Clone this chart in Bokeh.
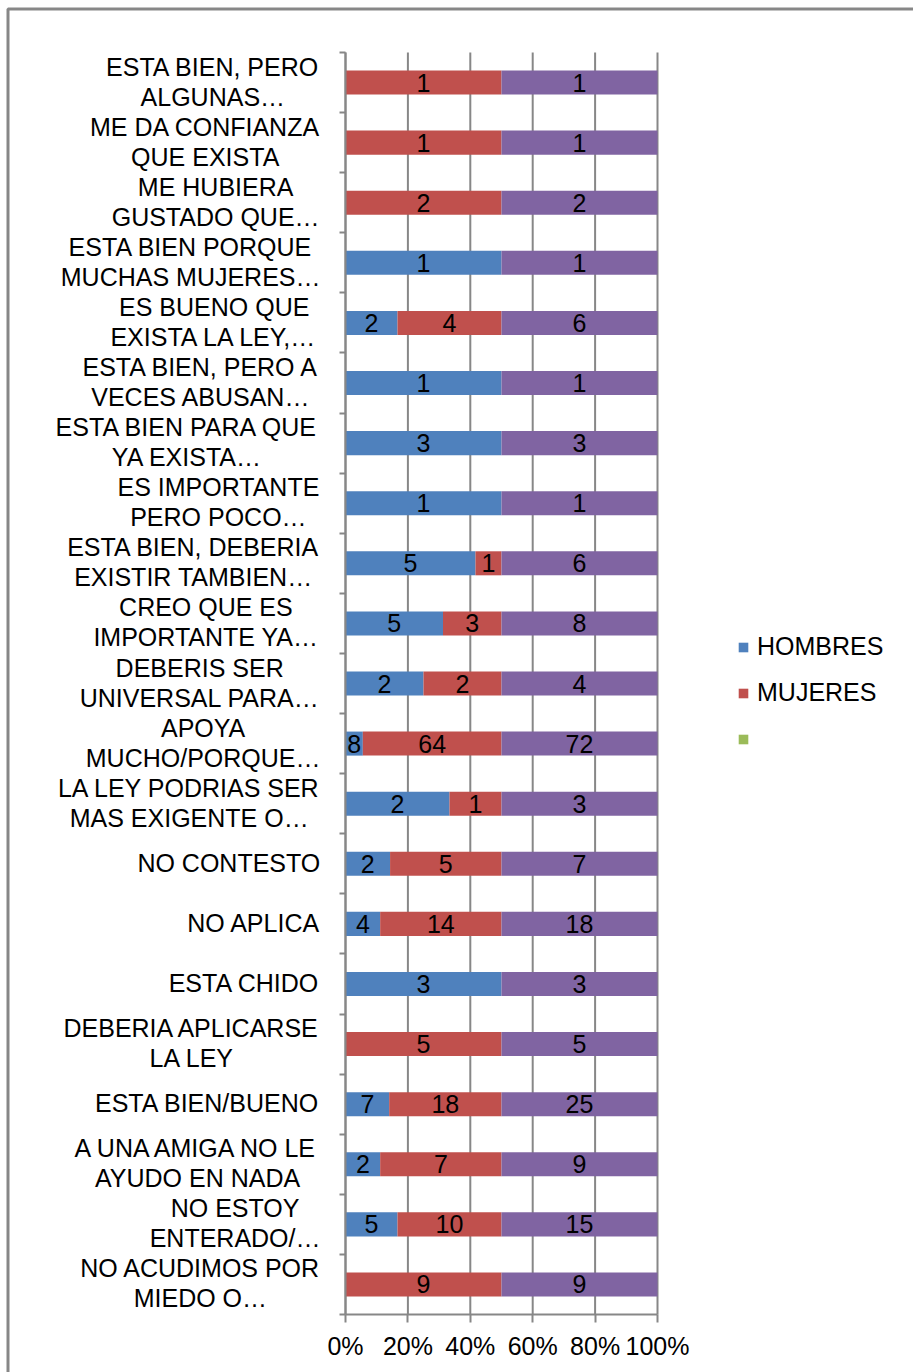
from bokeh.plotting import figure
from bokeh.models import (ColumnDataSource, Range1d, FixedTicker,
                          Legend, LegendItem, BoxAnnotation)
from bokeh.core.properties import value
from bokeh.embed import file_html
from bokeh.resources import INLINE

# ---- data -------------------------------------------------------------
categories = [
    "ESTA BIEN, PERO\nALGUNAS…",
    "ME DA CONFIANZA\nQUE EXISTA",
    "ME HUBIERA\nGUSTADO QUE…",
    "ESTA BIEN PORQUE\nMUCHAS MUJERES…",
    "ES BUENO QUE\nEXISTA LA LEY,…",
    "ESTA BIEN, PERO A\nVECES ABUSAN…",
    "ESTA BIEN PARA QUE\nYA EXISTA…",
    "ES IMPORTANTE\nPERO POCO…",
    "ESTA BIEN, DEBERIA\nEXISTIR TAMBIEN…",
    "CREO QUE ES\nIMPORTANTE YA…",
    "DEBERIS SER\nUNIVERSAL PARA…",
    "APOYA\nMUCHO/PORQUE…",
    "LA LEY PODRIAS SER\nMAS EXIGENTE O…",
    "NO CONTESTO",
    "NO APLICA",
    "ESTA CHIDO",
    "DEBERIA APLICARSE\nLA LEY",
    "ESTA BIEN/BUENO",
    "A UNA AMIGA NO LE\nAYUDO EN NADA",
    "NO ESTOY\nENTERADO/…",
    "NO ACUDIMOS POR\nMIEDO O…",
]
hombres = [0, 0, 0, 1, 2, 1, 3, 1, 5, 5, 2, 8, 2, 2, 4, 3, 0, 7, 2, 5, 0]
mujeres = [1, 1, 2, 0, 4, 0, 0, 0, 1, 3, 2, 64, 1, 5, 14, 0, 5, 18, 7, 10, 9]
sin_nombre = [0, 0, 0, 0, 0, 0, 0, 0, 0, 0, 0, 0, 0, 0, 0, 0, 0, 0, 0, 0, 0]
totales = [1, 1, 2, 1, 6, 1, 3, 1, 6, 8, 4, 72, 3, 7, 18, 3, 5, 25, 9, 15, 9]

x_ticks = [0.0, 0.2, 0.4, 0.6, 0.8, 1.0]
x_tick_labels = ["0%", "20%", "40%", "60%", "80%", "100%"]
legend_names = ["HOMBRES", "MUJERES", "\u00a0"]

BLUE, RED, GREEN, PURPLE = "#4F81BD", "#C0504D", "#9BBB59", "#8064A2"
GRAY = "#878787"
FONT = "Liberation Sans"
FS = 25

# ---- page geometry (pixels) -------------------------------------------
W, H = 913, 1372
PLOT_LEFT, PLOT_RIGHT = 345, 657
PLOT_TOP, PLOT_BOTTOM = 52, 1314

n = len(categories)
ypos = [i + 0.5 for i in range(n)]
k = n / (PLOT_BOTTOM - PLOT_TOP)          # y data units per pixel


def xd(px):
    return (px - PLOT_LEFT) / (PLOT_RIGHT - PLOT_LEFT)


def yd(px):
    return (px - PLOT_TOP) * k


# stacked 100% segments
series = (hombres, mujeres, sin_nombre, totales)
colors = (BLUE, RED, GREEN, PURPLE)
sums = [sum(col) for col in zip(*series)]
segs = []
left = [0.0] * n
for vals in series:
    frac = [v / s for v, s in zip(vals, sums)]
    right = [l + f for l, f in zip(left, frac)]
    segs.append((vals, list(left), right))
    left = right

p = figure(width=W, height=H,
           x_range=Range1d(xd(0), xd(W)), y_range=Range1d(yd(H), yd(0)),
           output_backend="svg", toolbar_location=None,
           min_border_left=0, min_border_right=0,
           min_border_top=0, min_border_bottom=0)
p.title.visible = False
p.outline_line_color = None
p.background_fill_color = "white"
p.border_fill_color = "white"
p.grid.visible = False

# vertical grid lines at the percentage ticks, spanning the category rows
p.segment(x0=x_ticks, y0=[0] * len(x_ticks), x1=x_ticks, y1=[n] * len(x_ticks),
          line_color=GRAY, line_width=2)

renderers = []
for (vals, l, r), col in zip(segs, colors):
    src = ColumnDataSource(dict(y=ypos, left=l, right=r))
    rr = p.hbar(y="y", left="left", right="right", height=0.4, source=src,
                fill_color=col, line_color=None)
    renderers.append(rr)

# value labels centred in each segment
lx, ly, lt = [], [], []
for vals, l, r in segs:
    for i, v in enumerate(vals):
        if v:
            lx.append((l[i] + r[i]) / 2)
            ly.append(ypos[i])
            lt.append(str(v))
p.text(x="x", y="y", text="t", source=ColumnDataSource(dict(x=lx, y=ly, t=lt)),
       text_align="center", text_baseline="middle",
       text_font=value(FONT), text_font_size=value(f"{FS}px"), text_color="black")

# ---- category labels: wrapped lines centred as a block ------------------
ARIAL = {" ": 278, ",": 278, ".": 278, "/": 278, "…": 1000,
         "A": 667, "B": 667, "C": 722, "D": 722, "E": 667, "F": 611,
         "G": 778, "H": 722, "I": 278, "J": 500, "K": 667, "L": 556,
         "M": 833, "N": 722, "O": 778, "P": 667, "Q": 778, "R": 722,
         "S": 667, "T": 611, "U": 722, "V": 667, "W": 944, "X": 667,
         "Y": 667, "Z": 611}


def text_width(s):
    return sum(ARIAL.get(c, 667) for c in s) * FS / 1000.0


LABEL_RIGHT = 320
LINE_GAP = 30
cx, cy, ct = [], [], []
for i, cat in enumerate(categories):
    lines = cat.split("\n")
    wmax = max(text_width(s) for s in lines)
    m = len(lines)
    for j, s in enumerate(lines):
        cx.append(xd(LABEL_RIGHT - wmax / 2))
        cy.append(ypos[i] + ((j - (m - 1) / 2) * LINE_GAP - 1) * k)
        ct.append(s)
p.text(x="x", y="y", text="t", source=ColumnDataSource(dict(x=cx, y=cy, t=ct)),
       text_align="center", text_baseline="middle",
       text_font=value(FONT), text_font_size=value(f"{FS}px"), text_color="black")

# ---- axes drawn at the edges of the bar area -----------------------------
xa = p.xaxis[0]
xa.fixed_location = n
xa.bounds = (0, 1)
xa.ticker = FixedTicker(ticks=x_ticks)
xa.major_label_overrides = {t: s for t, s in zip(x_ticks, x_tick_labels)}
xa.axis_line_color = GRAY
xa.axis_line_width = 2
xa.major_tick_line_color = GRAY
xa.major_tick_line_width = 2
xa.major_tick_out = 8
xa.major_tick_in = 0
xa.minor_tick_line_color = None
xa.major_label_text_font = FONT
xa.major_label_text_font_size = f"{FS}px"
xa.major_label_text_color = "black"
xa.major_label_standoff = 9

ya = p.yaxis[0]
ya.fixed_location = 0
ya.bounds = (0, n)
ya.ticker = FixedTicker(ticks=list(range(n + 1)))
ya.major_label_overrides = {i: "" for i in range(n + 1)}
ya.major_label_standoff = 0
ya.axis_line_color = GRAY
ya.axis_line_width = 2
ya.major_tick_line_color = GRAY
ya.major_tick_line_width = 2
ya.major_tick_out = 6
ya.major_tick_in = 0
ya.minor_tick_line_color = None

# ---- legend (the total series has no entry) ------------------------------
legend = Legend(items=[LegendItem(label=name, renderers=[r])
                       for name, r in zip(legend_names, renderers[:3])],
                location=(737, H - 753), glyph_width=12, glyph_height=12,
                label_standoff=8, spacing=17, padding=0, margin=0,
                label_text_font=FONT, label_text_font_size=f"{FS}px",
                label_text_color="black", border_line_color=None,
                background_fill_alpha=0)
p.add_layout(legend)

# ---- outer chart border (left and top edges) -----------------------------
p.add_layout(BoxAnnotation(left=xd(7.5), right=xd(W + 100),
                           top=yd(8.5), bottom=yd(H + 100),
                           fill_alpha=0, line_color=GRAY, line_alpha=1,
                           line_width=3))

open("out.html", "w").write(file_html(p, INLINE))
